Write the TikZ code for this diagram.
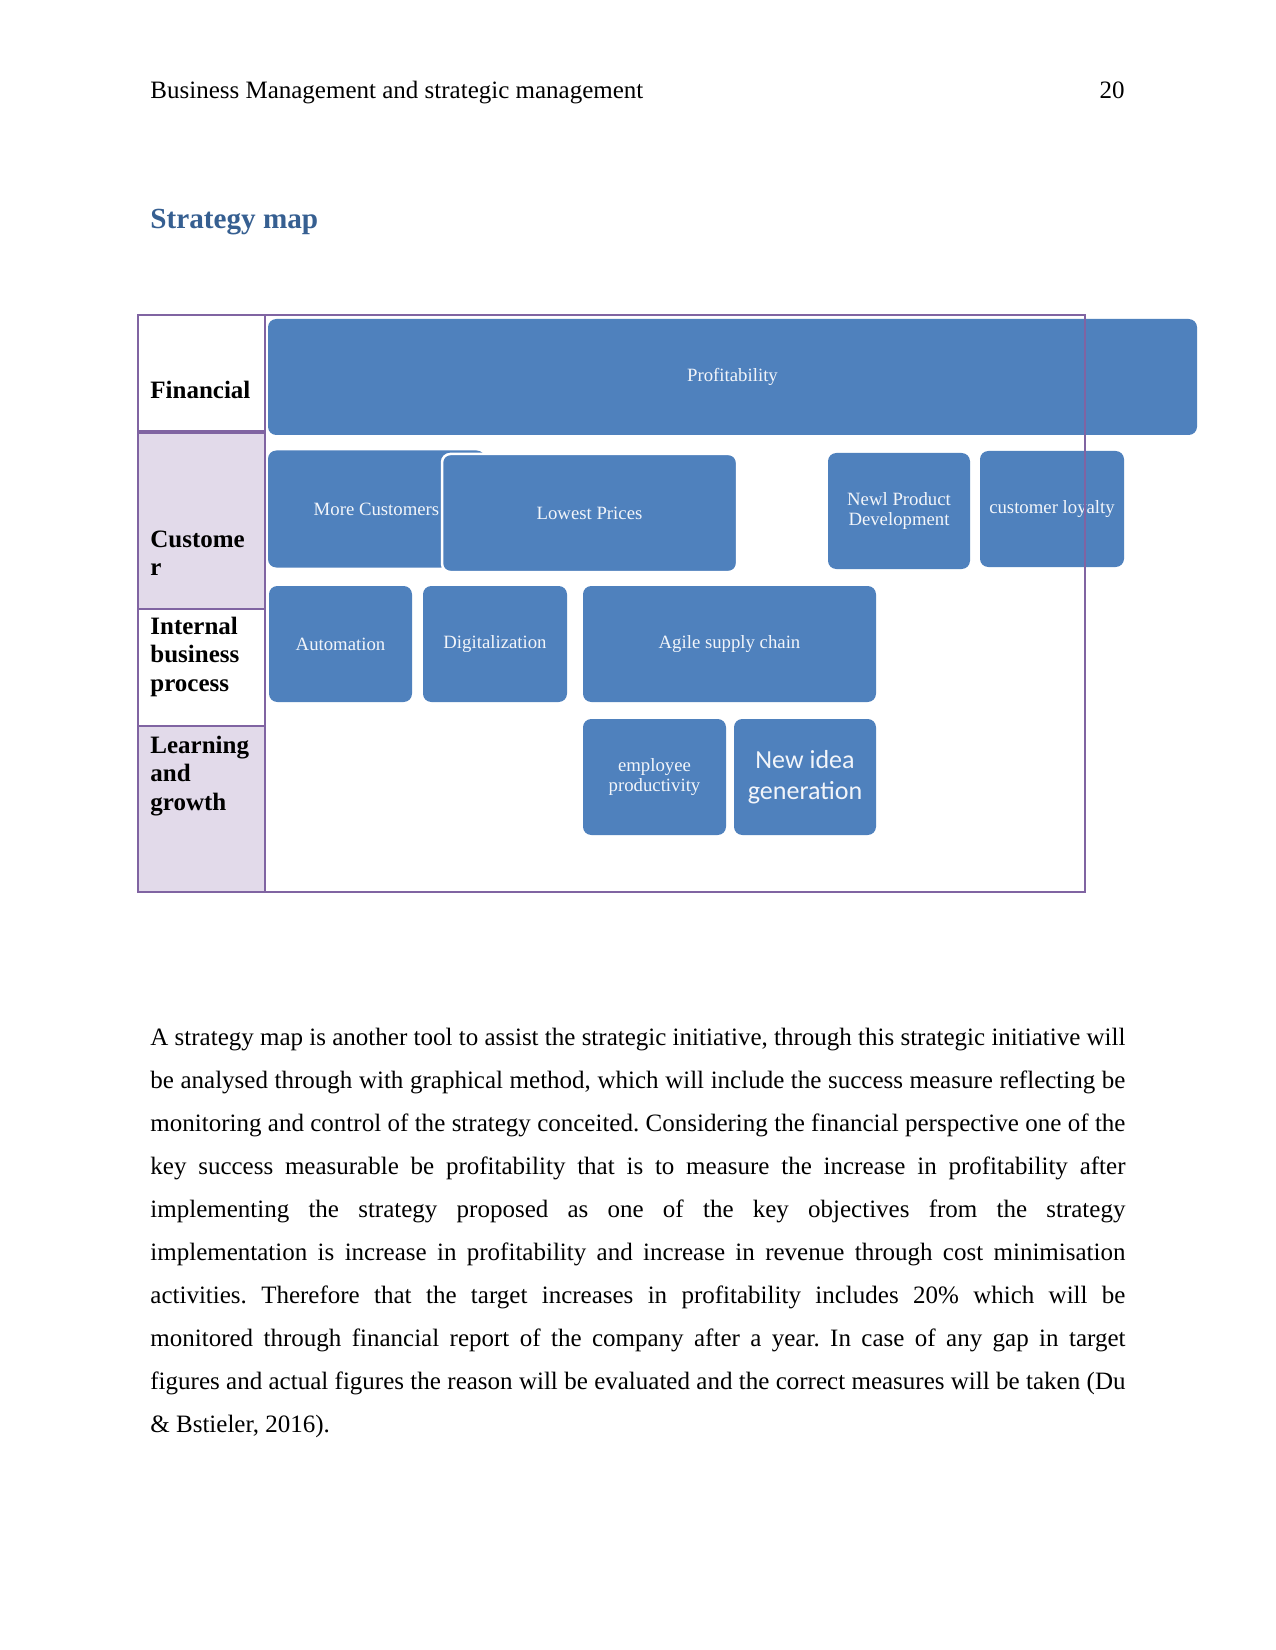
\documentclass[tikz,border=0pt]{standalone}
\usepackage{fontspec}
\setmainfont{Liberation Serif}
\newfontfamily\calibrifont{Carlito}
\definecolor{boxblue}{HTML}{4F81BD}
\definecolor{tblpurple}{HTML}{8064A2}
\definecolor{lav}{HTML}{E2DAEA}
\definecolor{headblue}{HTML}{365F91}
\definecolor{boxtext}{HTML}{F2F5FA}
\tikzset{
  obj/.style={rounded corners=4pt, fill=boxblue, text=boxtext, align=center,
    inner sep=2pt, font=\fontsize{9}{10}\selectfont},
  wh/.style n args={2}{minimum width=#1*0.48pt, minimum height=#2*0.48pt},
  tbl/.style={draw=tblpurple, line width=1.2pt},
  lbl/.style={anchor=base west, inner sep=0pt, font=\fontsize{12}{13.7}\selectfont\bfseries},
  plain/.style={anchor=base west, inner sep=0pt, font=\fontsize{12}{14}\selectfont}
}
\begin{document}
\begin{tikzpicture}[x=0.48pt,y=-0.48pt]
\useasboundingbox (0,0) rectangle (1275,1650);
\fill[white] (0,0) rectangle (1275,1650);

% header
\node[plain] (hdr) at (150,99) {Business Management and strategic management};
\node[plain, anchor=base east] (pg) at (1125,99) {20};
\node[anchor=base west, inner sep=0pt, text=headblue,
  font=\fontsize{14}{16}\selectfont\bfseries] (title) at (150,229) {Strategy map};

% table fills
\fill[lav] (138,432) rectangle (265,609);
\fill[lav] (138,726) rectangle (265,892);

% row labels
\node[lbl] (lfin) at (150,399) {Financial};
\node[lbl] (lcus) at (150,547) {\parbox[t]{110pt}{\baselineskip=13.7pt Custome\\r}};
\node[lbl] (lint) at (150,634) {\parbox[t]{110pt}{\baselineskip=13.7pt Internal\\business\\process}};
\node[lbl] (llea) at (150,753) {\parbox[t]{110pt}{\baselineskip=13.7pt Learning\\and\\growth}};

% objective boxes
\node[obj, wh={929}{116}] (prof) at (732.5,377) {Profitability};
\node[obj, wh={217}{117}] (more) at (376.5,509) {More Customers};
\node[obj, wh={295}{118}, draw=white, line width=1.2pt] (lowest) at (589.5,513) {Lowest Prices};
\node[obj, wh={142}{116}] (newl) at (899,511) {Newl Product\\Development};
\node[obj, wh={144}{116}] (loyal) at (1052,509) {customer loyalty};
\node[obj, wh={143}{116}] (auto) at (340.5,644) {Automation};
\node[obj, wh={144}{116}] (digi) at (495,644) {Digitalization};
\node[obj, wh={293}{116}] (agile) at (729.5,644) {Agile supply chain};
\node[obj, wh={143}{116}] (emp) at (654.5,777) {employee\\productivity};
\node[obj, wh={142}{116}, font=\calibrifont\fontsize{12.5}{14.6}\selectfont] (idea) at (805,777) {New idea\\generation};

% table lines (drawn over the boxes)
\draw[tbl] (138,315) rectangle (1085,892);
\draw[tbl] (265,315) -- (265,892);
\draw[tbl, line width=2pt] (138,432) -- (265,432);
\draw[tbl] (138,609) -- (265,609);
\draw[tbl] (138,726) -- (265,726);

% paragraph
\node[anchor=base west, inner sep=0pt] (para) at (150,1045) {\parbox[t]{468pt}{%
\fontsize{12}{20.64}\selectfont\frenchspacing\hyphenpenalty=10000\exhyphenpenalty=10000
\tolerance=10000\parindent=0pt
A strategy map is another tool to assist the strategic initiative, through this strategic initiative will\linebreak
be analysed through with graphical method, which will include the success measure reflecting be\linebreak
monitoring and control of the strategy conceited. Considering the financial perspective one of the\linebreak
key success measurable be profitability that is to measure the increase in profitability after\linebreak
implementing the strategy proposed as one of the key objectives from the strategy\linebreak
implementation is increase in profitability and increase in revenue through cost minimisation\linebreak
activities. Therefore that the target increases in profitability includes 20\% which will be\linebreak
monitored through financial report of the company after a year. In case of any gap in target\linebreak
figures and actual figures the reason will be evaluated and the correct measures will be taken (Du\linebreak
\& Bstieler, 2016).}};
\end{tikzpicture}
\end{document}
